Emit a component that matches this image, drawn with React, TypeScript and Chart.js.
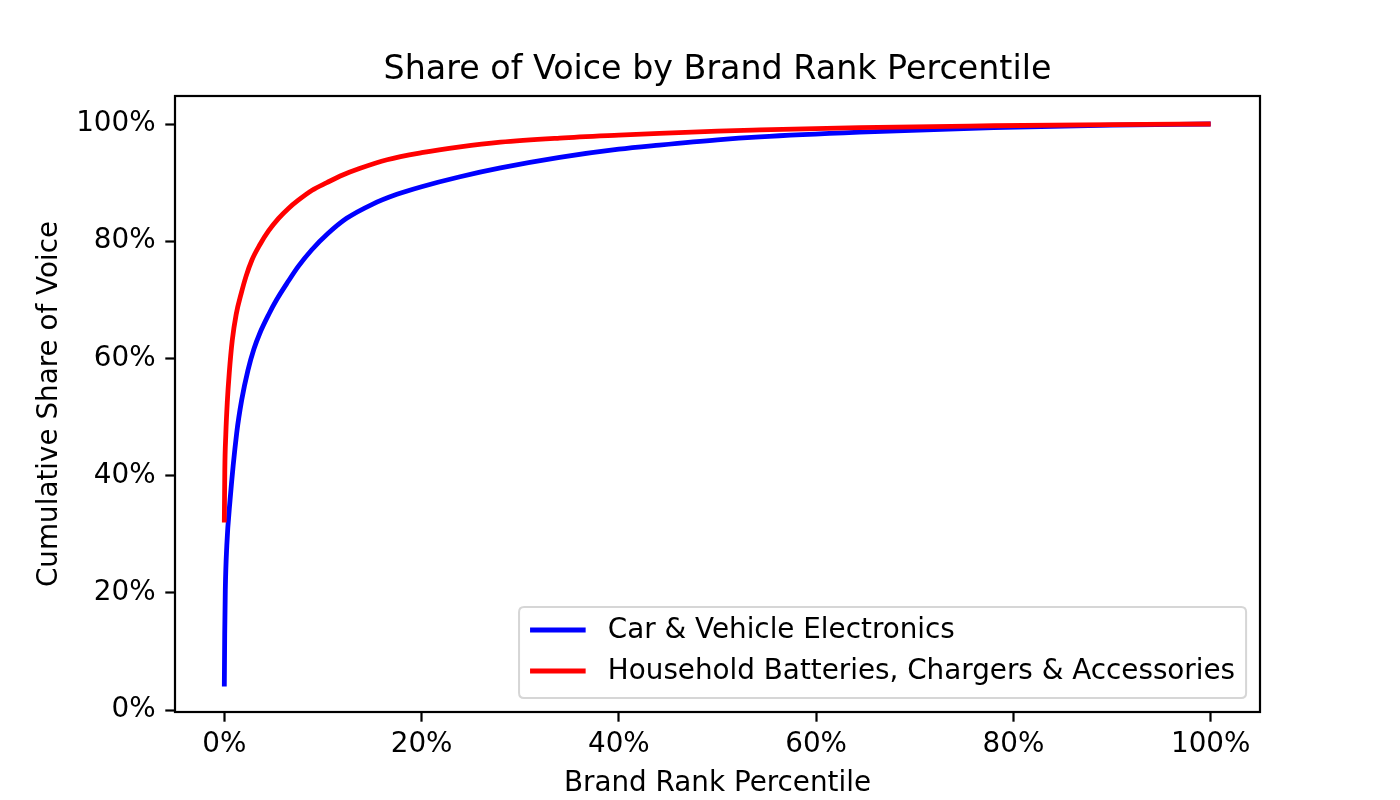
import React, { useEffect, useRef } from "react";
import { Chart, registerables } from "chart.js";
Chart.register(...registerables);

const chartTitle = "Share of Voice by Brand Rank Percentile";
const xAxisTitle = "Brand Rank Percentile";
const yAxisTitle = "Cumulative Share of Voice";
const seriesLabels = ["Car & Vehicle Electronics", "Household Batteries, Chargers & Accessories"];
const seriesColors = ["#0000ff", "#ff0000"];

const carRankPct = [0, 0.04, 0.1, 0.25, 0.58, 1.25, 1.76, 2.4, 3.0, 3.6, 4.5, 5.3, 6.5, 7.5, 8.85, 10.5, 12.4, 15, 17.5, 20, 23.9, 28, 34, 40, 44.1, 50, 54.3, 64.4, 71.2, 78, 90, 100];
const carShare = [4.0, 13, 20.5, 28, 35.8, 47.2, 52.9, 58.0, 61.6, 64.3, 67.5, 70.0, 73.2, 75.7, 78.5, 81.3, 83.9, 86.3, 88.0, 89.3, 91.0, 92.5, 94.3, 95.7, 96.4, 97.3, 97.8, 98.6, 99.0, 99.4, 99.8, 100];

const householdRankPct = [0, 0.05, 0.15, 0.3, 0.5, 0.8, 1.2, 1.7, 2.2, 2.8, 3.6, 4.5, 5.5, 6.5, 7.5, 8.9, 10.4, 12, 13.7, 16.5, 20, 23.9, 28, 34, 40, 44.1, 50, 54.3, 64.4, 78, 90, 100];
const householdShare = [32, 41, 47, 52.5, 57.5, 63, 67.5, 71, 74, 76.8, 79.4, 81.8, 83.9, 85.6, 87.0, 88.7, 90.0, 91.3, 92.4, 93.9, 95.1, 96.1, 96.9, 97.6, 98.1, 98.4, 98.8, 99.0, 99.4, 99.7, 99.9, 100];

const xTickValues = [0, 20, 40, 60, 80, 100];
const yTickValues = [0, 20, 40, 60, 80, 100];

const FONT = '"DejaVu Sans", "Liberation Sans", sans-serif';
const FS = 27.8;
const TITLE_FS = 33.3;
const LINE_W = 4.8;

const decorPlugin = {
  id: "decor",
  afterDraw(chart: any) {
    const { ctx, chartArea } = chart;
    const { left, right, top, bottom } = chartArea;
    ctx.save();
    ctx.strokeStyle = "#000";
    ctx.lineWidth = 2.2;
    ctx.strokeRect(left, top, right - left, bottom - top);
    ctx.fillStyle = "#000";
    ctx.font = `${TITLE_FS}px ${FONT}`;
    ctx.textAlign = "center";
    ctx.textBaseline = "alphabetic";
    ctx.fillText(chartTitle, (left + right) / 2, top - 17);
    ctx.font = `${FS}px ${FONT}`;
    const textW = Math.max(...seriesLabels.map((s) => ctx.measureText(s).width));
    const pad = 11;
    const handleLen = 55.6;
    const handlePad = 22.2;
    const boxW = pad + handleLen + handlePad + textW + pad;
    const boxH = 91;
    const boxR = right - 13.9;
    const boxB = bottom - 14;
    const boxL = boxR - boxW;
    const boxT = boxB - boxH;
    const r = 5;
    ctx.beginPath();
    ctx.moveTo(boxL + r, boxT);
    ctx.lineTo(boxR - r, boxT);
    ctx.quadraticCurveTo(boxR, boxT, boxR, boxT + r);
    ctx.lineTo(boxR, boxB - r);
    ctx.quadraticCurveTo(boxR, boxB, boxR - r, boxB);
    ctx.lineTo(boxL + r, boxB);
    ctx.quadraticCurveTo(boxL, boxB, boxL, boxB - r);
    ctx.lineTo(boxL, boxT + r);
    ctx.quadraticCurveTo(boxL, boxT, boxL + r, boxT);
    ctx.closePath();
    ctx.fillStyle = "rgba(255,255,255,0.8)";
    ctx.fill();
    ctx.strokeStyle = "#d6d6d6";
    ctx.lineWidth = 2;
    ctx.stroke();
    seriesLabels.forEach((label, i) => {
      const cy = boxT + 23 + i * 41;
      ctx.strokeStyle = seriesColors[i];
      ctx.lineWidth = LINE_W;
      ctx.beginPath();
      ctx.moveTo(boxL + pad, cy);
      ctx.lineTo(boxL + pad + handleLen, cy);
      ctx.stroke();
      ctx.fillStyle = "#000";
      ctx.textAlign = "left";
      ctx.textBaseline = "middle";
      ctx.fillText(label, boxL + pad + handleLen + handlePad, cy + 1);
    });
    ctx.restore();
  },
};

export default function App() {
  const ref = useRef<HTMLCanvasElement | null>(null);
  useEffect(() => {
    document.body.style.margin = "0";
    if (!ref.current) return;
    const toPts = (xs: number[], ys: number[]) => xs.map((x, i) => ({ x, y: ys[i] }));
    const chart = new Chart(ref.current, {
      type: "line",
      data: {
        datasets: [
          {
            label: seriesLabels[0],
            data: toPts(carRankPct, carShare),
            borderColor: seriesColors[0],
            backgroundColor: seriesColors[0],
            borderWidth: LINE_W,
            pointRadius: 0,
            cubicInterpolationMode: "monotone",
            order: 1,
          },
          {
            label: seriesLabels[1],
            data: toPts(householdRankPct, householdShare),
            borderColor: seriesColors[1],
            backgroundColor: seriesColors[1],
            borderWidth: LINE_W,
            pointRadius: 0,
            cubicInterpolationMode: "monotone",
            order: 0,
          },
        ],
      },
      options: {
        responsive: false,
        animation: false,
        devicePixelRatio: 1,
        layout: { padding: { top: 96, right: 140, left: 0, bottom: 0 } },
        plugins: {
          legend: { display: false },
          title: { display: false },
          tooltip: { enabled: false },
        },
        scales: {
          x: {
            type: "linear",
            min: -5,
            max: 105,
            afterFit: (s: any) => {
              s.height = 88;
            },
            afterBuildTicks: (s: any) => {
              s.ticks = xTickValues.map((v) => ({ value: v }));
            },
            ticks: {
              color: "#000",
              font: { size: FS, family: FONT },
              padding: 6,
              maxRotation: 0,
              autoSkip: false,
              callback: (v: any) => `${v}%`,
            },
            grid: {
              display: true,
              drawOnChartArea: false,
              drawTicks: true,
              tickLength: 9.7,
              tickWidth: 2.2,
              tickColor: "#000",
            },
            border: { display: false },
            title: {
              display: true,
              text: xAxisTitle,
              color: "#000",
              font: { size: FS, family: FONT },
              padding: { top: 0, bottom: 0 },
            },
          },
          y: {
            type: "linear",
            min: -0.34,
            max: 104.78,
            afterFit: (s: any) => {
              s.width = 175;
            },
            afterBuildTicks: (s: any) => {
              s.ticks = yTickValues.map((v) => ({ value: v }));
            },
            ticks: {
              color: "#000",
              font: { size: FS, family: FONT },
              padding: 9.7,
              autoSkip: false,
              callback: (v: any) => `${v}%`,
            },
            grid: {
              display: true,
              drawOnChartArea: false,
              drawTicks: true,
              tickLength: 9.7,
              tickWidth: 2.2,
              tickColor: "#000",
            },
            border: { display: false },
            title: {
              display: true,
              text: yAxisTitle,
              color: "#000",
              font: { size: FS, family: FONT },
              padding: { top: 33, bottom: 0 },
            },
          },
        },
      },
      plugins: [decorPlugin],
    } as any);
    return () => chart.destroy();
  }, []);
  return (
    <div style={{ width: 1400, height: 800, background: "#fff" }}>
      <canvas ref={ref} width={1400} height={800} style={{ width: 1400, height: 800, display: "block" }} />
    </div>
  );
}
